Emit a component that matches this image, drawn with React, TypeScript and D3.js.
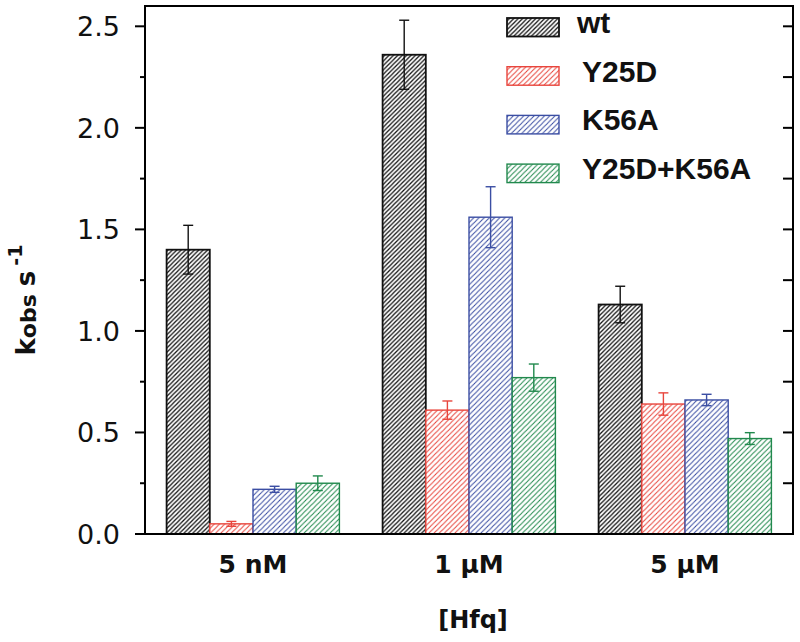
import React from "react";
import * as d3 from "d3";

const categories = ["5 nM", "1 μM", "5 μM"];
const seriesNames = ["wt", "Y25D", "K56A", "Y25D+K56A"];
const seriesColors = ["#111111", "#e8453c", "#3b4ea3", "#21894d"];
const wtValues = [1.40, 2.36, 1.13];
const wtErrors = [0.12, 0.17, 0.09];
const y25dValues = [0.05, 0.61, 0.64];
const y25dErrors = [0.012, 0.045, 0.055];
const k56aValues = [0.22, 1.56, 0.66];
const k56aErrors = [0.015, 0.15, 0.028];
const doubleValues = [0.25, 0.77, 0.47];
const doubleErrors = [0.036, 0.067, 0.029];
const yTicks = [0.0, 0.5, 1.0, 1.5, 2.0, 2.5];
const yMinorTicks = [0.25, 0.75, 1.25, 1.75, 2.25];

const seriesValues = [wtValues, y25dValues, k56aValues, doubleValues];
const seriesErrors = [wtErrors, y25dErrors, k56aErrors, doubleErrors];

const W = 800;
const H = 642;
const left = 145;
const right = 793;
const top = 6;
const bottom = 534;

export default function App() {
  const y = d3.scaleLinear().domain([0, 2.6]).range([bottom, top]);
  const x = d3
    .scaleBand<string>()
    .domain(categories)
    .range([left, right])
    .paddingInner(0.2)
    .paddingOuter(0.1);
  const xs = d3
    .scaleBand<string>()
    .domain(seriesNames)
    .range([0, x.bandwidth()])
    .padding(0);

  const font = "'Liberation Sans', Arial, Helvetica, sans-serif";
  const wide = "'DejaVu Sans', 'Liberation Sans', sans-serif";
  const cap = 10;

  return (
    <svg
      width={W}
      height={H}
      style={{ position: "absolute", left: 0, top: 0, background: "#fff" }}
      fontFamily={font}
    >
      <defs>
        {seriesNames.map((s, i) => {
          const p = i === 0 ? 4.4 : 5.2;
          return (
            <pattern
              key={s}
              id={`hatch${i}`}
              patternUnits="userSpaceOnUse"
              width={p}
              height={p}
            >
              <rect width={p} height={p} fill="#fff" />
              <path
                d={`M0,${p} L${p},0 M${-p / 2},${p / 2} L${p / 2},${-p / 2} M${p / 2},${1.5 * p} L${1.5 * p},${p / 2}`}
                stroke={seriesColors[i]}
                strokeWidth={i === 0 ? 1.25 : 1.05}
              />
            </pattern>
          );
        })}
      </defs>

      {/* bars */}
      {categories.map((c, ci) =>
        seriesNames.map((s, si) => {
          const v = seriesValues[si][ci];
          const bx = (x(c) as number) + (xs(s) as number);
          const bw = xs.bandwidth();
          return (
            <rect
              key={`${c}-${s}`}
              x={bx}
              y={y(v)}
              width={bw}
              height={y(0) - y(v)}
              fill={`url(#hatch${si})`}
              stroke={seriesColors[si]}
              strokeWidth={si === 0 ? 1.8 : 1.4}
            />
          );
        })
      )}

      {/* error bars */}
      {categories.map((c, ci) =>
        seriesNames.map((s, si) => {
          const v = seriesValues[si][ci];
          const e = seriesErrors[si][ci];
          const cx = (x(c) as number) + (xs(s) as number) + xs.bandwidth() / 2;
          const col = seriesColors[si];
          return (
            <g key={`e-${c}-${s}`} stroke={col} strokeWidth={1.4}>
              <line x1={cx} x2={cx} y1={y(v + e)} y2={y(v - e)} />
              <line x1={cx - cap / 2} x2={cx + cap / 2} y1={y(v + e)} y2={y(v + e)} />
              <line x1={cx - cap / 2} x2={cx + cap / 2} y1={y(v - e)} y2={y(v - e)} />
            </g>
          );
        })
      )}

      {/* frame */}
      <rect
        x={left}
        y={top}
        width={right - left}
        height={bottom - top}
        fill="none"
        stroke="#000"
        strokeWidth={2}
      />

      {/* ticks */}
      {yTicks.map((t) => (
        <g key={`yt${t}`}>
          <line x1={left - 10} x2={left} y1={y(t)} y2={y(t)} stroke="#000" strokeWidth={2} />
          <line x1={right - 10} x2={right} y1={y(t)} y2={y(t)} stroke="#000" strokeWidth={2} />
          <text
            x={left - 25}
            y={y(t)}
            dy="0.36em"
            textAnchor="end"
            fontSize={27}
            fontFamily={wide}
            fill="#111"
          >
            {d3.format(".1f")(t)}
          </text>
        </g>
      ))}
      {yMinorTicks.map((t) => (
        <g key={`ym${t}`}>
          <line x1={left - 5} x2={left} y1={y(t)} y2={y(t)} stroke="#000" strokeWidth={2} />
          <line x1={right - 10} x2={right} y1={y(t)} y2={y(t)} stroke="#000" strokeWidth={2} />
        </g>
      ))}

      {/* category labels */}
      {categories.map((c) => (
        <text
          key={`cl${c}`}
          x={(x(c) as number) + x.bandwidth() / 2}
          y={573}
          textAnchor="middle"
          fontSize={25}
          fontWeight="bold"
          fontFamily={wide}
          fill="#111"
        >
          {c}
        </text>
      ))}

      {/* x axis title */}
      <text
        x={(left + right) / 2 + 4}
        y={628}
        textAnchor="middle"
        fontSize={24}
        fontWeight="bold"
        fontFamily={wide}
        fill="#111"
      >
        [Hfq]
      </text>

      {/* y axis title */}
      <text
        transform={`translate(35,300) rotate(-90)`}
        textAnchor="middle"
        fontSize={26}
        fontWeight="bold"
        fontFamily={wide}
        fill="#111"
      >
        <tspan>k</tspan>
        <tspan fontSize={22} dy={1}>obs</tspan>
        <tspan dy={-1} dx={8}>s</tspan>
        <tspan fontSize={19} dy={-13} dx={5}>-1</tspan>
      </text>

      {/* legend */}
      {seriesNames.map((s, i) => {
        const ly = 18 + i * 48.7;
        return (
          <g key={`lg${s}`}>
            <rect
              x={507}
              y={ly}
              width={52}
              height={18.5}
              fill={`url(#hatch${i})`}
              stroke={seriesColors[i]}
              strokeWidth={i === 0 ? 1.8 : 1.4}
            />
            <text
              x={i === 0 ? 577 : 582}
              y={ly + 15}
              fontSize={30}
              fontWeight="bold"
              fill="#111"
            >
              {s}
            </text>
          </g>
        );
      })}
    </svg>
  );
}
